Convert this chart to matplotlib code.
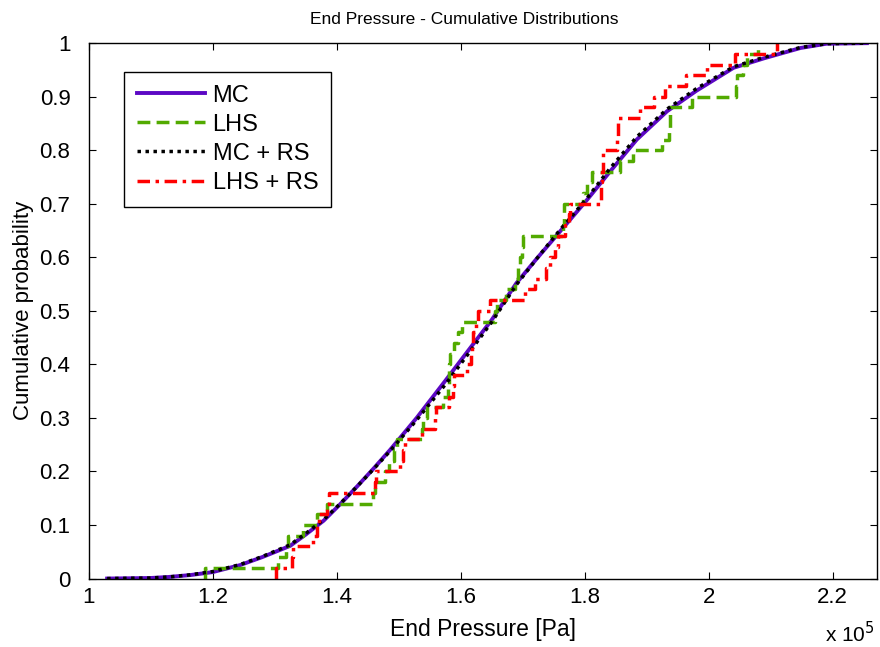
import numpy as np
import matplotlib
matplotlib.use("Agg")
import matplotlib.pyplot as plt

plt.rcParams['font.family'] = ['Liberation Sans', 'DejaVu Sans']

# ---- data (pressure in units of 1e5 Pa) ----
mc_x = [1.03, 1.10, 1.13, 1.164, 1.20, 1.244, 1.28, 1.325, 1.35, 1.379, 1.405,
        1.433, 1.46, 1.486, 1.529, 1.575, 1.615, 1.65, 1.69, 1.723, 1.76, 1.8035,
        1.84, 1.884, 1.933, 1.98, 2.04, 2.09, 2.148, 2.19, 2.255]
mc_y = [0.0, 0.001, 0.003, 0.0065, 0.012, 0.025, 0.040, 0.061, 0.082, 0.108, 0.138,
        0.172, 0.206, 0.240, 0.300, 0.369, 0.430, 0.483, 0.552, 0.598, 0.648, 0.707,
        0.759, 0.820, 0.873, 0.911, 0.954, 0.972, 0.991, 0.999, 1.0]

mcrs_x = [1.03, 1.10, 1.13, 1.164, 1.20, 1.244, 1.28, 1.325, 1.35, 1.379, 1.405,
          1.433, 1.46, 1.486, 1.529, 1.575, 1.615, 1.65, 1.69, 1.723, 1.76, 1.8035,
          1.84, 1.884, 1.933, 1.98, 2.04, 2.09, 2.148, 2.19, 2.255]
mcrs_y = [0.0, 0.001, 0.003, 0.007, 0.013, 0.026, 0.041, 0.063, 0.084, 0.110, 0.139,
          0.172, 0.205, 0.238, 0.296, 0.362, 0.424, 0.479, 0.549, 0.598, 0.651, 0.710,
          0.765, 0.825, 0.877, 0.915, 0.956, 0.974, 0.992, 0.999, 1.0]

lhs_samples = [1.188, 1.306, 1.318, 1.322, 1.346, 1.368, 1.384, 1.459, 1.462, 1.478,
               1.485, 1.492, 1.497, 1.537, 1.540, 1.545, 1.572, 1.580, 1.581, 1.582,
               1.583, 1.590, 1.596, 1.602, 1.656, 1.658, 1.673, 1.688, 1.692, 1.696,
               1.699, 1.701, 1.765, 1.766, 1.767, 1.797, 1.803, 1.812, 1.857, 1.878,
               1.925, 1.936, 1.937, 1.938, 1.973, 2.044, 2.046, 2.056, 2.062, 2.080]

lhsrs_samples = [1.302, 1.328, 1.330, 1.362, 1.369, 1.372, 1.385, 1.388, 1.462, 1.464,
                 1.502, 1.507, 1.510, 1.537, 1.559, 1.561, 1.581, 1.587, 1.590, 1.610,
                 1.616, 1.618, 1.620, 1.625, 1.628, 1.647, 1.704, 1.720, 1.738, 1.744,
                 1.752, 1.757, 1.768, 1.775, 1.777, 1.826, 1.827, 1.828, 1.829, 1.830,
                 1.852, 1.853, 1.854, 1.889, 1.911, 1.930, 1.964, 1.997, 2.043, 2.110]

labels = ['MC', 'LHS', 'MC + RS', 'LHS + RS']
x_ticks = [1.0, 1.2, 1.4, 1.6, 1.8, 2.0, 2.2]
x_tick_labels = ['1', '1.2', '1.4', '1.6', '1.8', '2', '2.2']
y_ticks = [0, 0.1, 0.2, 0.3, 0.4, 0.5, 0.6, 0.7, 0.8, 0.9, 1.0]
y_tick_labels = ['0', '0.1', '0.2', '0.3', '0.4', '0.5', '0.6', '0.7', '0.8', '0.9', '1']


def ecdf_stairs(samples):
    s = np.sort(np.asarray(samples))
    n = len(s)
    xs = np.concatenate([[s[0]], s])
    ys = np.concatenate([[0.0], np.arange(1, n + 1) / n])
    return xs, ys


fig = plt.figure(figsize=(8.8, 6.47), dpi=100)
ax = fig.add_axes([0.1006, 0.1058, 0.8958, 0.8275])

c_mc = '#5C08C4'
c_lhs = '#52AA00'
c_red = '#FF0000'

ax.plot(mc_x, mc_y, color=c_mc, lw=2.8, label=labels[0])
lx, ly = ecdf_stairs(lhs_samples)
ax.step(lx, ly, where='post', color=c_lhs, lw=2.5, linestyle=(0, (3.7, 1.8)), label=labels[1])
ax.plot(mcrs_x, mcrs_y, color='black', lw=2.5, linestyle=(0, (1, 1.3)), label=labels[2])
rx, ry = ecdf_stairs(lhsrs_samples)
ax.step(rx, ry, where='post', color=c_red, lw=2.5, linestyle=(0, (3.6, 1.6, 1, 1.6)), label=labels[3])

ax.set_xlim(1.0, 2.271)
ax.set_ylim(0, 1)
ax.set_xticks(x_ticks)
ax.set_xticklabels(x_tick_labels)
ax.set_yticks(y_ticks)
ax.set_yticklabels(y_tick_labels)
ax.tick_params(direction='in', length=5, width=0.8, top=True, right=True,
               labelsize=16, colors='black')
ax.tick_params(axis='x', pad=6)
ax.tick_params(axis='y', pad=13)
for sp in ax.spines.values():
    sp.set_linewidth(1.0)
    sp.set_color('black')

ax.set_xlabel('End Pressure [Pa]', fontsize=16.5, labelpad=7)
ax.set_ylabel('Cumulative probability', fontsize=16, labelpad=4)
ax.set_title('End Pressure - Cumulative Distributions', fontsize=12.5, x=0.4765, pad=14)

fig.text(0.937, 0.002, r'x 10$^{5}$', fontsize=15, ha='left', va='bottom')

leg = ax.legend(loc='upper left', bbox_to_anchor=(0.045, 0.947), borderaxespad=0,
                fontsize=17, handlelength=2.9, handletextpad=0.3, labelspacing=0.3,
                borderpad=0.55, fancybox=False, framealpha=1, edgecolor='black')
leg.get_frame().set_linewidth(1.0)

fig.savefig('out.png', dpi=100)
